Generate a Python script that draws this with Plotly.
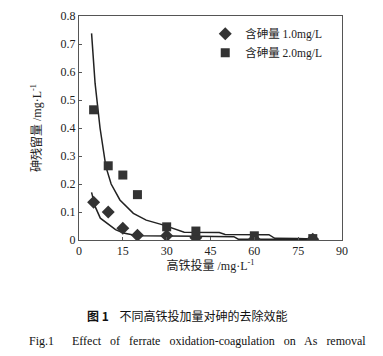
import plotly.graph_objects as go

# measured points
dose = [5, 10, 15, 20, 30, 40, 60, 80]
as_1 = [0.135, 0.100, 0.042, 0.017, 0.015, 0.008, 0.003, 0.003]
as_2 = [0.465, 0.265, 0.232, 0.162, 0.047, 0.032, 0.015, 0.005]

# fitted curves
fit1_x = [4.3, 5.5, 7.3, 9.9, 12.5, 15.2, 18.6, 22, 30, 40, 53, 54.5, 60, 70, 80]
fit1_y = [0.170, 0.120, 0.078, 0.058, 0.037, 0.025, 0.018, 0.015, 0.013, 0.013, 0.012, 0.003, 0.003, 0.003, 0.003]
fit2_x = [4.3, 5.5, 7.2, 9.2, 11, 14, 18.6, 23, 28.7, 32.5, 36, 48, 50, 65, 67, 75, 80]
fit2_y = [0.738, 0.560, 0.400, 0.262, 0.200, 0.143, 0.095, 0.071, 0.054, 0.040, 0.028, 0.027, 0.020, 0.019, 0.006, 0.005, 0.004]

xticks = [0, 15, 30, 45, 60, 75, 90]
yticks = [0, 0.1, 0.2, 0.3, 0.4, 0.5, 0.6, 0.7, 0.8]
yticktext = ["0", "0.1", "0.2", "0.3", "0.4", "0.5", "0.6", "0.7", "0.8"]

FONT = "Liberation Serif, Noto Sans CJK SC, serif"
DARK = "#333333"

fig = go.Figure()
fig.add_trace(go.Scatter(x=fit1_x, y=fit1_y, mode="lines", line=dict(color="#222", width=1.5),
                         showlegend=False, hoverinfo="skip"))
fig.add_trace(go.Scatter(x=fit2_x, y=fit2_y, mode="lines", line=dict(color="#222", width=1.5),
                         showlegend=False, hoverinfo="skip"))
fig.add_trace(go.Scatter(x=dose, y=as_1, mode="markers", name="含砷量 1.0mg/L",
                         marker=dict(symbol="diamond", size=10, color=DARK)))
fig.add_trace(go.Scatter(x=dose, y=as_2, mode="markers", name="含砷量 2.0mg/L",
                         marker=dict(symbol="square", size=9, color=DARK)))

fig.update_layout(
    width=367, height=340,
    margin=dict(l=71, r=33, t=8, b=108, autoexpand=False),
    paper_bgcolor="white", plot_bgcolor="white",
    font=dict(family=FONT, size=12, color="#222"),
    legend=dict(x=0.48, y=0.985, xanchor="left", yanchor="top", bgcolor="rgba(0,0,0,0)",
                font=dict(size=11.5), itemwidth=30, tracegroupgap=2),
    xaxis=dict(range=[0, 90], tickvals=xticks, ticks="inside", ticklen=3, tickcolor="#555",
               automargin=False,
               showgrid=False, zeroline=False, showline=True, linecolor="#555", linewidth=1, mirror=True,
               title=dict(text="高铁投量 /mg·L<sup>-1</sup>", standoff=4, font=dict(size=12)),
               tickfont=dict(size=12)),
    yaxis=dict(range=[0, 0.8], tickvals=yticks, ticktext=yticktext, ticks="inside", ticklen=3,
               automargin=False,
               tickcolor="#555", showgrid=False, zeroline=False, showline=True, linecolor="#555",
               linewidth=1, mirror=True,
               title=dict(text="砷残留量 /mg·L<sup>-1</sup>", standoff=16, font=dict(size=12)),
               tickfont=dict(size=12)),
    annotations=[
        dict(text="<b>图 1</b>    不同高铁投加量对砷的去除效能", x=0.414, y=-0.335, xref="paper", yref="paper",
             showarrow=False, font=dict(size=12, family="Noto Sans CJK SC, sans-serif", color="#111"),
             xanchor="center", yanchor="middle"),
        dict(text="Fig.1      Effect   of   ferrate   oxidation-coagulation   on   As   removal", x=0.45, y=-0.451,
             xref="paper", yref="paper", showarrow=False,
             font=dict(size=12, family=FONT, color="#111"), xanchor="center", yanchor="middle"),
    ],
)

fig.write_html("out.html")
